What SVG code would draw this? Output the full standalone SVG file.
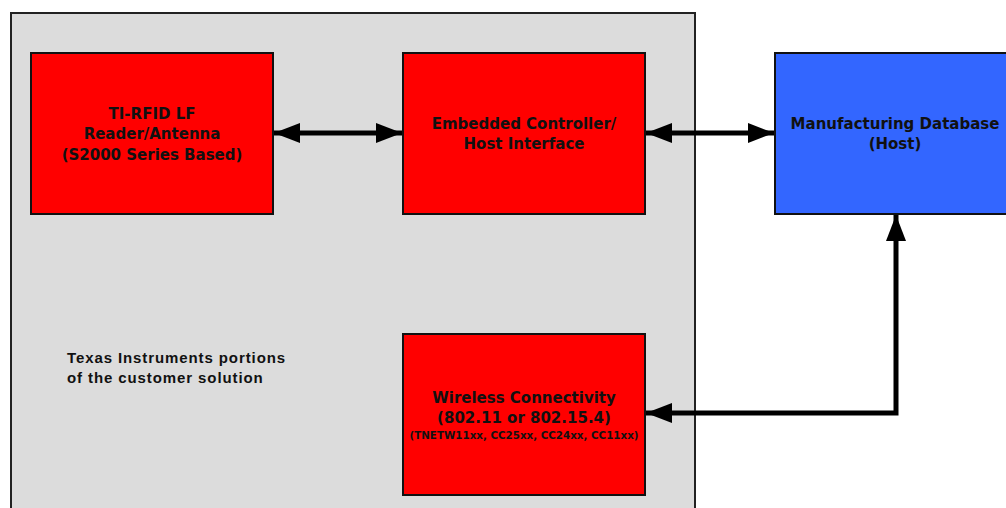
<svg xmlns="http://www.w3.org/2000/svg" width="1006" height="508" viewBox="0 0 1006 508">
<style>
.box{stroke:#111;stroke-width:2}
.red{fill:#ff0000}
.blue{fill:#3366ff}
.t{font-family:"DejaVu Sans",Verdana,sans-serif;font-weight:bold;font-size:15px;fill:#111;text-anchor:middle}
.s{font-size:10px}
.lbl{font-family:"Liberation Sans",Arial,sans-serif;font-weight:bold;font-size:15px;letter-spacing:0.9px;fill:#111}
.c{stroke:#000;stroke-width:5;fill:none}
</style>
<defs>
<marker id="ah" viewBox="0 0 26 20" refX="26" refY="10" markerWidth="26" markerHeight="20" markerUnits="userSpaceOnUse" orient="auto-start-reverse">
<path d="M0,0 L26,10 L0,20 z" fill="#000"/>
</marker>
</defs>
<rect width="1006" height="508" fill="#fff"/>
<g id="panel">
<rect x="11" y="13" width="684" height="510" fill="#dcdcdc" stroke="#222" stroke-width="2"/>
</g>
<g id="connectors">
<line class="c" x1="274" y1="133" x2="402" y2="133" marker-start="url(#ah)" marker-end="url(#ah)"/>
<line class="c" x1="646" y1="133" x2="774" y2="133" marker-start="url(#ah)" marker-end="url(#ah)"/>
<polyline class="c" points="646,413 896,413 896,215" marker-start="url(#ah)" marker-end="url(#ah)"/>
</g>
<g id="reader">
<rect class="box red" x="31" y="53" width="242" height="161"/>
<text class="t" x="152" y="119">TI-RFID LF</text>
<text class="t" x="152" y="139">Reader/Antenna</text>
<text class="t" x="152" y="160">(S2000 Series Based)</text>
</g>
<g id="controller">
<rect class="box red" x="403" y="53" width="242" height="161"/>
<text class="t" x="524" y="129">Embedded Controller/</text>
<text class="t" x="524" y="149">Host Interface</text>
</g>
<g id="database">
<rect class="box blue" x="775" y="53" width="245" height="161"/>
<text class="t" x="895" y="129">Manufacturing Database</text>
<text class="t" x="895" y="149">(Host)</text>
</g>
<g id="wireless">
<rect class="box red" x="403" y="334" width="242" height="161"/>
<text class="t" x="524" y="403">Wireless Connectivity</text>
<text class="t" x="524" y="423">(802.11 or 802.15.4)</text>
<text class="t s" x="524" y="439" textLength="229" lengthAdjust="spacingAndGlyphs">(TNETW11xx, CC25xx, CC24xx, CC11xx)</text>
</g>
<g id="note">
<text class="lbl" x="67" y="363">Texas Instruments portions</text>
<text class="lbl" x="67" y="383">of the customer solution</text>
</g>
</svg>
